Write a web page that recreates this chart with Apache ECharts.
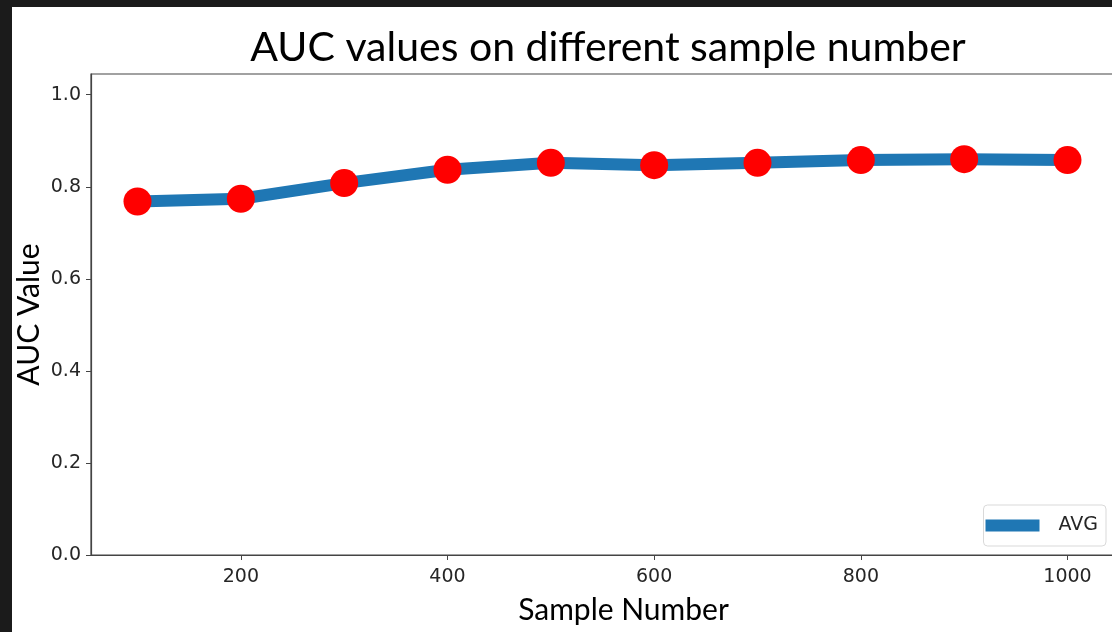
<!DOCTYPE html>
<html>
<head>
<meta charset="utf-8">
<script src="https://cdn.jsdelivr.net/npm/echarts@6/dist/echarts.min.js"></script>
<style>
html,body{margin:0;padding:0;width:1112px;height:632px;overflow:hidden;background:#1b1b1b;}
#chart{position:absolute;left:12px;top:7px;width:1110px;height:625px;background:#ffffff;}
</style>
</head>
<body>
<div id="chart"></div>
<script>
const sampleNumbers = [100, 200, 300, 400, 500, 600, 700, 800, 900, 1000];
const aucAvg = [0.768, 0.774, 0.808, 0.837, 0.852, 0.847, 0.852, 0.858, 0.860, 0.858];
const xTicks = [200, 400, 600, 800, 1000];
const yTicks = [0.0, 0.2, 0.4, 0.6, 0.8, 1.0];

const chart = echarts.init(document.getElementById('chart'));
const data = sampleNumbers.map((s, i) => [s, aucAvg[i]]);
const tickFont = {fontFamily: 'DejaVu Sans', fontSize: 19, color: '#262626'};

chart.setOption({
  animation: false,
  title: {
    text: 'AUC values on different sample number',
    left: 591, top: 15, textAlign: 'center',
    textStyle: {fontFamily: 'Lato', fontWeight: 'normal', fontSize: 41, color: '#000'}
  },
  grid: {left: 79, top: 67, right: 8, bottom: 77, outerBoundsMode: 'none', containLabel: false,
    show: true, borderColor: '#444', borderWidth: 1.2, backgroundColor: 'transparent'},
  legend: {
    right: 16, bottom: 86,
    data: [{name: 'AVG', icon: 'rect'}],
    itemWidth: 54, itemHeight: 12,
    itemGap: 10,
    padding: [11, 8, 11, 2],
    borderColor: '#d9d9d9', borderWidth: 1, borderRadius: 4,
    backgroundColor: 'rgba(255,255,255,0.8)',
    textStyle: {fontFamily: 'DejaVu Sans', fontSize: 19, color: '#262626', padding: [0, 0, 0, 14]}
  },
  xAxis: {
    type: 'value', min: 55, max: 1045,
    name: 'Sample Number', nameLocation: 'middle', nameGap: 40,
    nameTextStyle: {fontFamily: 'Lato', fontSize: 30, color: '#000', padding: [0, 0, 0, 42]},
    axisLine: {show: true, lineStyle: {color: '#444', width: 1.2}},
    axisTick: {show: true, length: 5, lineStyle: {color: '#444'}, customValues: xTicks},
    axisLabel: {...tickFont, margin: 13, customValues: xTicks, formatter: v => String(v)},
    splitLine: {show: false}
  },
  yAxis: {
    type: 'value', min: 0, max: 1.045,
    name: 'AUC Value', nameLocation: 'middle', nameGap: 47, nameRotate: 90, nameMoveOverlap: false,
    nameTextStyle: {fontFamily: 'Lato', fontSize: 30, color: '#000'},
    axisLine: {show: true, lineStyle: {color: '#444', width: 1.2}},
    axisTick: {show: true, length: 5, lineStyle: {color: '#444'}, customValues: yTicks},
    axisLabel: {...tickFont, margin: 10, customValues: yTicks, formatter: v => v.toFixed(1)},
    splitLine: {show: false}
  },
  series: [{
    name: 'AVG', type: 'line', data: data,
    lineStyle: {color: '#1f77b4', width: 12, cap: 'round', join: 'round'},
    itemStyle: {color: '#1f77b4'},
    symbol: 'none', z: 2
  }, {
    name: 'markers', type: 'scatter', data: data,
    symbol: 'circle', symbolSize: 28,
    itemStyle: {color: '#ff0000', opacity: 1}, z: 3
  }]
});
</script>
</body>
</html>
